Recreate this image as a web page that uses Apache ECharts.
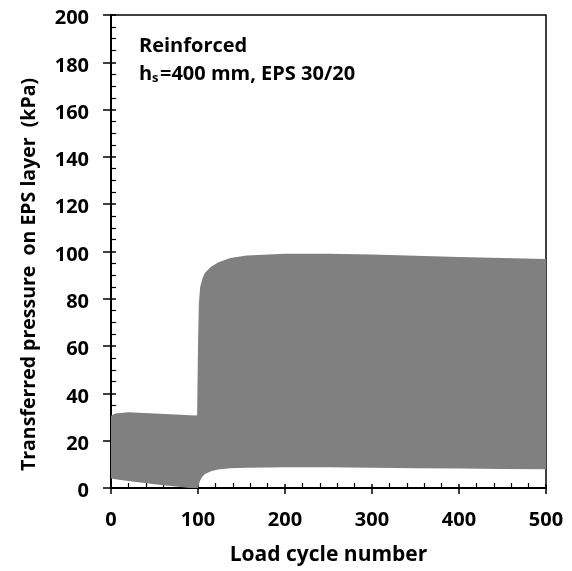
<!DOCTYPE html>
<html>
<head>
<meta charset="utf-8">
<script src="https://cdn.jsdelivr.net/npm/echarts@6/dist/echarts.min.js"></script>
<style>html,body{margin:0;padding:0;background:#fff;}#c{width:572px;height:571px;}</style>
</head>
<body>
<div id="c"></div>
<script>
// Load cycle number (shared x positions for both envelopes)
const cycles = [0, 5, 20, 50, 80, 90, 98, 99, 99.3, 100, 101, 102.5, 105, 108, 115, 123, 137, 156, 200, 250, 300, 350, 400, 450, 500];
// Upper envelope of transferred pressure (kPa)
const upperKPa = [30.5, 31.5, 32, 31.5, 31, 30.8, 30.7, 31, 40, 60, 78, 85, 88.5, 91, 93.5, 95.4, 97.3, 98.3, 99, 99, 98.7, 98.2, 97.7, 97.2, 96.8];
// Lower envelope of transferred pressure (kPa)
const lowerKPa = [4, 3.7, 3, 1.6, 0.4, 0, 0, 0, 0, 0, 1.6, 3.2, 4.8, 5.9, 7.1, 7.8, 8.3, 8.6, 8.8, 8.8, 8.6, 8.4, 8.2, 8.0, 7.9];
const xTicks = [0, 100, 200, 300, 400, 500];
const yTicks = [0, 20, 40, 60, 80, 100, 120, 140, 160, 180, 200];

const FONT = 'Open Sans';
const FS = 20;
const bandData = cycles.map((x, i) => [x, lowerKPa[i], upperKPa[i]]);

const chart = echarts.init(document.getElementById('c'), null, {renderer: 'canvas'});
const axisLabel = {color: '#000', fontFamily: FONT, fontWeight: 'bold', fontSize: FS};
const bold = (px) => 'bold ' + px + 'px "Open Sans"';
chart.setOption({
  animation: false,
  grid: {left: 111, right: 26, top: 15, bottom: 82, show: true, borderColor: '#000', borderWidth: 1.5, backgroundColor: 'transparent'},
  xAxis: [{
    type: 'value', min: xTicks[0], max: xTicks[xTicks.length - 1], interval: 100,
    axisLine: {show: true, lineStyle: {color: '#000', width: 2}},
    axisTick: {show: true, inside: true, length: 4, lineStyle: {color: '#000', width: 1.5}},
    minorTick: {show: true, splitNumber: 5, length: 5, lineStyle: {color: '#000', width: 1.2}},
    splitLine: {show: false},
    axisLabel: Object.assign({margin: 22}, axisLabel),
    name: 'Load cycle number', nameLocation: 'middle', nameGap: 57,
    nameTextStyle: {color: '#000', fontFamily: FONT, fontWeight: 'bold', fontSize: 21}
  }, {
    type: 'value', position: 'bottom', min: 0, max: 500, interval: 100,
    axisLine: {show: true, lineStyle: {color: '#000', width: 2}},
    axisTick: {show: true, inside: false, length: 6, lineStyle: {color: '#000', width: 1.5}},
    axisLabel: {show: false}, splitLine: {show: false}
  }],
  yAxis: [{
    type: 'value', min: yTicks[0], max: yTicks[yTicks.length - 1], interval: 20,
    axisLine: {show: true, lineStyle: {color: '#000', width: 2}},
    axisTick: {show: true, inside: true, length: 5, lineStyle: {color: '#000', width: 1.5}},
    minorTick: {show: true, splitNumber: 4, length: 5, lineStyle: {color: '#000', width: 1.2}},
    splitLine: {show: false},
    axisLabel: Object.assign({margin: 22, formatter: '{v|{value}}',
      rich: {v: {fontFamily: FONT, fontWeight: 'bold', fontSize: FS, color: '#000', padding: [7, 0, 0, 0]}}}, axisLabel),
    name: 'Transferred pressure  on EPS layer  (kPa)', nameLocation: 'middle', nameGap: 72,
    nameTextStyle: {color: '#000', fontFamily: FONT, fontWeight: 'bold', fontSize: 19.5, padding: [0, 46, 0, 0]}
  }, {
    type: 'value', position: 'left', min: 0, max: 200, interval: 20,
    axisLine: {show: true, lineStyle: {color: '#000', width: 2}},
    axisTick: {show: true, inside: false, length: 8, lineStyle: {color: '#000', width: 1.5}},
    axisLabel: {show: false}, splitLine: {show: false}
  }],
  series: [{
    type: 'custom', coordinateSystem: 'cartesian2d', xAxisIndex: 0, yAxisIndex: 0,
    data: bandData, encode: {x: 0, y: [1, 2]}, z: 1,
    renderItem: function (params, api) {
      if (params.dataIndex !== 0) return null;
      const top = bandData.map(d => api.coord([d[0], d[2]]));
      const bot = bandData.slice().reverse().map(d => api.coord([d[0], d[1]]));
      return {
        type: 'polygon',
        shape: {points: top.concat(bot)},
        style: {fill: '#808080', stroke: null}
      };
    }
  }],
  graphic: [{
    type: 'text', x: 139, y: 46,
    style: {text: 'Reinforced', fill: '#000', font: bold(20), verticalAlign: 'middle'}
  }, {
    type: 'text', x: 139, y: 74.5,
    style: {text: 'h', fill: '#000', font: bold(20), verticalAlign: 'middle'}
  }, {
    type: 'text', x: 152, y: 78.5,
    style: {text: 's', fill: '#000', font: bold(13), verticalAlign: 'middle'}
  }, {
    type: 'text', x: 160, y: 74.5,
    style: {text: '=400 mm, EPS 30/20', fill: '#000', font: bold(20), verticalAlign: 'middle'}
  }]
});
</script>
</body>
</html>
